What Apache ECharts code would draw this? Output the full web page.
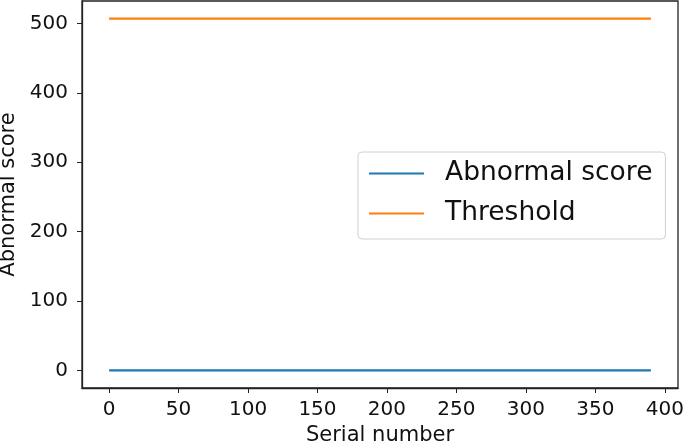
<!DOCTYPE html>
<head>
    <meta charset="utf-8">
    <title>ECharts</title>
</head>
<body style="margin:0">
    <div id="main" style="width:685px;height:446px"></div>
    <script src="https://cdn.jsdelivr.net/npm/echarts@6/dist/echarts.min.js"></script>
    <script type="text/javascript">
        // data
        var serialNumbers = [0, 50, 100, 150, 200, 250, 300, 350, 390];
        var abnormalScore = [0, 0, 0, 0, 0, 0, 0, 0, 0];
        var threshold = [507, 507, 507, 507, 507, 507, 507, 507, 507];
        var xTicks = [0, 50, 100, 150, 200, 250, 300, 350, 400];
        var yTicks = [0, 100, 200, 300, 400, 500];

        var font = 'DejaVu Sans';
        var myChart = echarts.init(document.getElementById('main'));

        function pairs(ys) {
            return serialNumbers.map(function (x, i) { return [x, ys[i]]; });
        }

        var option = {
            animation: false,
            textStyle: { fontFamily: font },
            grid: {
                left: 82, right: 7, top: 1, bottom: 58,
                outerBoundsMode: 'none',
                containLabel: false,
                show: true, borderColor: '#222', borderWidth: 1.3
            },
            legend: {
                orient: 'vertical',
                left: 358, top: 152,
                padding: [8, 13, 12, 10],
                itemGap: 13,
                itemWidth: 55,
                itemHeight: 14,
                backgroundColor: '#fff',
                borderColor: '#d0d0d0',
                borderWidth: 1,
                borderRadius: 4,
                textStyle: { fontFamily: font, fontSize: 26.5, color: '#111', padding: [0, 0, 0, 16] },
                data: [
                    { name: 'Abnormal score', itemStyle: { opacity: 0 } },
                    { name: 'Threshold', itemStyle: { opacity: 0 } }
                ]
            },
            xAxis: {
                type: 'value',
                min: -19.5, max: 409.5,
                name: 'Serial number',
                nameLocation: 'middle',
                nameGap: 37,
                nameTextStyle: { fontFamily: font, fontSize: 21, color: '#111' },
                splitLine: { show: false },
                axisLine: { show: true, onZero: false, lineStyle: { color: '#222', width: 1.3 } },
                axisTick: { show: true, length: 5, customValues: xTicks, lineStyle: { color: '#222' } },
                axisLabel: { customValues: xTicks, margin: 12, fontFamily: font, fontSize: 20, color: '#111' }
            },
            yAxis: {
                type: 'value',
                min: -25.35, max: 532.35,
                name: 'Abnormal score',
                nameLocation: 'middle',
                nameGap: 58,
                nameTextStyle: { fontFamily: font, fontSize: 21, color: '#111' },
                splitLine: { show: false },
                axisLine: { show: true, onZero: false, lineStyle: { color: '#222', width: 1.3 } },
                axisTick: { show: true, length: 5, customValues: yTicks, lineStyle: { color: '#222' } },
                axisLabel: { customValues: yTicks, margin: 14, fontFamily: font, fontSize: 20, color: '#111' }
            },
            series: [
                {
                    name: 'Abnormal score',
                    type: 'line',
                    symbol: 'none',
                    color: '#1f77b4',
                    lineStyle: { width: 2.4, color: '#1f77b4' },
                    data: pairs(abnormalScore)
                },
                {
                    name: 'Threshold',
                    type: 'line',
                    symbol: 'none',
                    color: '#ff7f0e',
                    lineStyle: { width: 2.4, color: '#ff7f0e' },
                    data: pairs(threshold)
                }
            ]
        };

        myChart.setOption(option);
    </script>
</body>
